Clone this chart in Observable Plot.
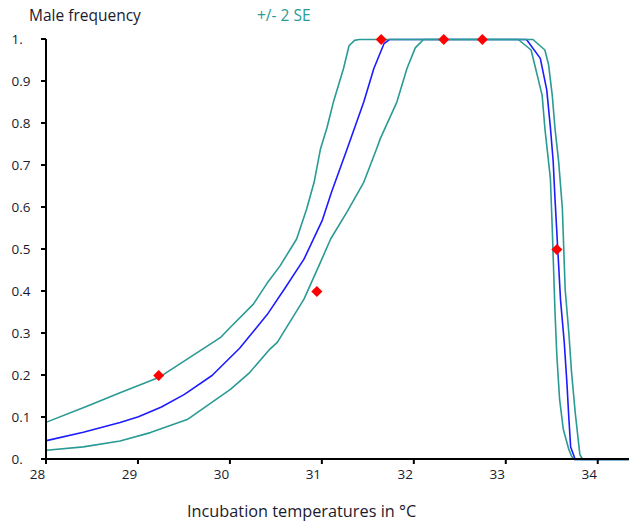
<!DOCTYPE html>
<html><head><meta charset="utf-8">
<script src="https://cdn.jsdelivr.net/npm/d3@7"></script>
<script src="https://cdn.jsdelivr.net/npm/@observablehq/plot@0.6"></script>
<style>
body{margin:0;background:#fff;}
#wrap{position:relative;width:629px;height:523px;font-family:"Open Sans",sans-serif;}
.hdr{position:absolute;font-size:15.5px;white-space:nowrap;line-height:16px;}
#wrap svg{position:absolute;left:0;top:0;font-family:"Open Sans",sans-serif;font-size:13.5px;color:#1a1a2e;}
</style></head><body>
<div id="wrap">
<div class="hdr" style="left:29px;top:7px;color:#1a1a2e">Male frequency</div>
<div class="hdr" style="left:257px;top:7px;color:#2a9a94">+/- 2 SE</div>
<div class="hdr" style="left:187px;top:503px;color:#1a1a2e;font-size:16.3px">Incubation temperatures in °C</div>
</div>
<script>
// Observed male frequencies
const obsTemp = [29.22, 30.94, 31.64, 32.32, 32.74, 33.55];
const obsFreq = [0.2, 0.4, 1.0, 1.0, 1.0, 0.5];

// Fitted curve (centre)
const fitTemp = [28.00,28.40,28.80,29.00,29.25,29.50,29.80,30.10,30.40,30.60,30.80,31.00,31.10,31.27,31.45,31.56,31.67,31.73,33.22,33.37,33.44,33.48,33.51,33.53,33.56,33.59,33.63,33.66,33.68,33.70,33.75,34.34];
const fitFreq = [0.045,0.065,0.088,0.102,0.125,0.155,0.200,0.265,0.345,0.410,0.477,0.570,0.637,0.740,0.851,0.931,0.990,1.000,1.000,0.955,0.880,0.790,0.710,0.620,0.500,0.380,0.280,0.180,0.100,0.030,0.000,0.000];

// +2 SE bound
const upTemp = [28.00,28.44,28.80,29.22,29.53,29.89,30.00,30.25,30.40,30.54,30.72,30.83,30.91,30.98,31.05,31.12,31.23,31.29,31.35,31.40,33.29,33.42,33.46,33.50,33.53,33.57,33.61,33.64,33.68,33.71,33.75,33.79,33.80,33.83,34.34];
const upFreq = [0.089,0.127,0.159,0.195,0.239,0.290,0.315,0.370,0.420,0.461,0.525,0.597,0.660,0.740,0.790,0.851,0.931,0.985,0.998,1.000,1.000,0.975,0.940,0.867,0.788,0.708,0.597,0.406,0.302,0.207,0.111,0.032,0.012,0.000,0.000];

// -2 SE bound
const loTemp = [28.00,28.40,28.80,29.13,29.53,30.00,30.20,30.43,30.51,30.80,30.98,31.09,31.27,31.45,31.59,31.63,31.81,31.92,32.01,32.10,33.13,33.27,33.39,33.42,33.48,33.50,33.53,33.55,33.58,33.62,33.68,33.71,33.74,34.34];
const loFreq = [0.022,0.030,0.044,0.064,0.095,0.167,0.205,0.263,0.279,0.382,0.470,0.525,0.590,0.660,0.740,0.764,0.851,0.931,0.980,1.000,1.000,0.975,0.867,0.788,0.668,0.550,0.350,0.247,0.143,0.072,0.024,0.008,0.000,0.000];

const xTicks = [28,29,30,31,32,33,34];
const yTicks = [0,0.1,0.2,0.3,0.4,0.5,0.6,0.7,0.8,0.9,1];
const yTickLabels = ["0.","0.1","0.2","0.3","0.4","0.5","0.6","0.7","0.8","0.9","1."];

const toRows = (ts, vs) => ts.map((t, i) => ({t, v: vs[i]}));
const fit = toRows(fitTemp, fitFreq);
const up = toRows(upTemp, upFreq);
const lo = toRows(loTemp, loFreq);
const obs = toRows(obsTemp, obsFreq);
const x0 = xTicks[0];
const yTop = yTicks[yTicks.length - 1];

const teal = "#2a9a94";
const ink = "#1a1a2e";

const chart = Plot.plot({
  width: 629, height: 523,
  marginLeft: 46, marginRight: 0, marginTop: 39, marginBottom: 64,
  x: {domain: [28, 34.34]},
  y: {domain: [0, 1]},
  marks: [
    // tick labels
    Plot.axisY(yTicks, {tickSize: 0, tickPadding: 7, textAnchor: "start", dx: -28, label: null,
      tickFormat: d => yTickLabels[yTicks.indexOf(d)], fill: ink}),
    Plot.axisX(xTicks, {tickSize: 0, tickPadding: 10, dx: -9, label: null, fill: ink}),
    // curves
    Plot.line(fit, {x: "t", y: "v", stroke: "#1c1cff", strokeWidth: 1.6}),
    Plot.line(up, {x: "t", y: "v", stroke: teal, strokeWidth: 1.6}),
    Plot.line(lo, {x: "t", y: "v", stroke: teal, strokeWidth: 1.6}),
    // axis lines and tick marks as filled rectangles
    Plot.rect([x0], {x1: d => d, x2: d => d, y1: 0, y2: yTop, insetLeft: -1, insetRight: -1, fill: "#000"}),
    Plot.rect([0], {x1: 28, x2: 34.34, y1: d => d, y2: d => d, insetTop: -1, insetBottom: -1, fill: "#000"}),
    Plot.rect(xTicks, {x1: d => d, x2: d => d, y1: 0, y2: 0, insetLeft: -1, insetRight: -1, insetBottom: -5, fill: "#000"}),
    Plot.rect(yTicks, {x1: x0, x2: x0, y1: d => d, y2: d => d, insetLeft: -5, insetTop: -1, insetBottom: -1, fill: "#000"}),
    // observations
    Plot.dot(obs, {x: "t", y: "v", symbol: "square", rotate: 45, r: 4.4, fill: "#ff0000", stroke: "none"})
  ]
});
document.getElementById("wrap").prepend(chart);
</script>
</body></html>
